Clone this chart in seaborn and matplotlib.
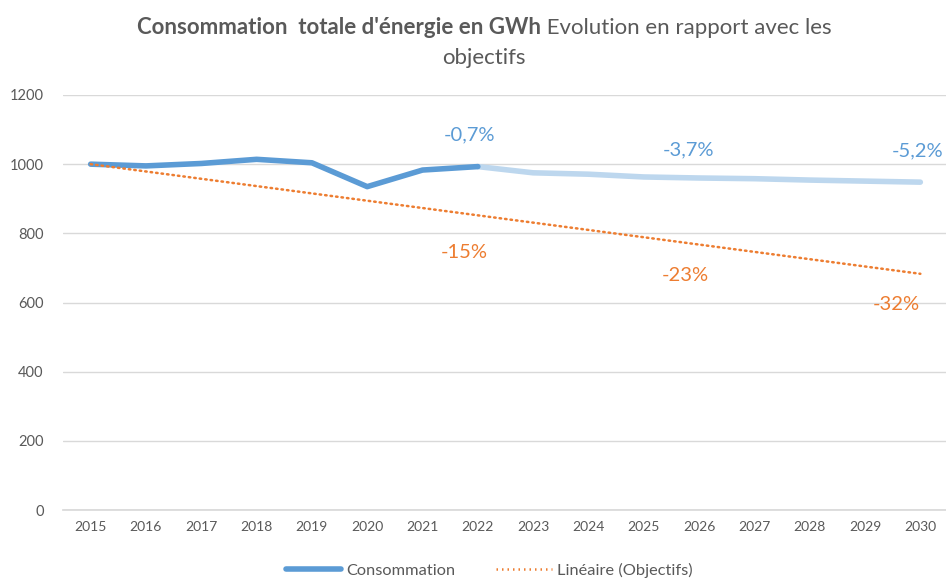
import matplotlib
matplotlib.use("Agg")
import matplotlib.pyplot as plt
import seaborn as sns
import pandas as pd
from matplotlib.lines import Line2D

# ---- data ----
years_hist = [2015, 2016, 2017, 2018, 2019, 2020, 2021, 2022]
conso_hist = [1000, 995, 1002, 1014, 1004, 935, 983, 993]
years_proj = [2022, 2023, 2024, 2025, 2026, 2027, 2028, 2029, 2030]
conso_proj = [993, 975, 971, 963, 960, 958, 954, 951, 948]
obj_years = [2015, 2030]
obj_values = [1000, 683]
blue_labels = ["-0,7%", "-3,7%", "-5,2%"]
blue_label_x = [2021.85, 2025.8, 2029.95]
blue_label_y = [1084, 1041, 1038]
orange_labels = ["-15%", "-23%", "-32%"]
orange_label_x = [2021.75, 2025.75, 2029.57]
orange_label_y = [746, 677, 593]
all_years = list(range(2015, 2031))

sns.set_theme(style="white")
plt.rcParams['font.family'] = ['Lato', 'DejaVu Sans']

GRAY = "#595959"
BLUE = "#5B9BD5"
LBLUE = "#BDD7EE"
ORANGE = "#ED7D31"

fig = plt.figure(figsize=(9.46, 5.79), dpi=100)
ax = fig.add_axes([63/946, 1-510/579, (948-63)/946, (510-95)/579])

df_hist = pd.DataFrame({"year": years_hist, "val": conso_hist})
df_proj = pd.DataFrame({"year": years_proj, "val": conso_proj})
df_obj = pd.DataFrame({"year": obj_years, "val": obj_values})

sns.lineplot(data=df_proj, x="year", y="val", ax=ax, color=LBLUE, linewidth=4, zorder=3, solid_capstyle="round")
sns.lineplot(data=df_hist, x="year", y="val", ax=ax, color=BLUE, linewidth=4, zorder=4, solid_capstyle="round")
sns.lineplot(data=df_obj, x="year", y="val", ax=ax, color=ORANGE, linewidth=1.8, zorder=5,
             linestyle=(0, (0.6, 1.6)), dash_capstyle="round")

for t, x, y in zip(blue_labels, blue_label_x, blue_label_y):
    ax.text(x, y, t, color=BLUE, fontsize=14.5, ha="center", va="center")
for t, x, y in zip(orange_labels, orange_label_x, orange_label_y):
    ax.text(x, y, t, color=ORANGE, fontsize=14.5, ha="center", va="center")

ax.set_xlim(2014.5, 2030.5)
ax.set_ylim(0, 1200)
ax.set_xticks(all_years)
ax.set_xticklabels([str(y) for y in all_years])
ax.set_yticks(range(0, 1201, 200))
ax.yaxis.grid(True, color="#D9D9D9", linewidth=1)
ax.xaxis.grid(False)
ax.set_axisbelow(True)
for s in ["top", "right", "left"]:
    ax.spines[s].set_visible(False)
ax.spines["bottom"].set_color("#D9D9D9")
ax.tick_params(axis="x", colors=GRAY, labelsize=10, length=0, pad=8)
ax.tick_params(axis="y", colors=GRAY, labelsize=10.5, length=0, pad=14)
ax.set_xlabel("")
ax.set_ylabel("")

# title with mixed weights
renderer = fig.canvas.get_renderer()
t1 = fig.text(0, 0, "Consommation  totale d'énergie en GWh", fontsize=16, fontweight="bold", color=GRAY)
t2 = fig.text(0, 0, " Evolution en rapport avec les", fontsize=16, color=GRAY)
w1 = t1.get_window_extent(renderer).width
w2 = t2.get_window_extent(renderer).width
total = w1 + w2
x0 = 484 - total / 2
ybase = 1 - 34/579
t1.set_position((x0/946, ybase))
t2.set_position(((x0 + w1)/946, ybase))
fig.text(484/946, 1 - 64/579, "objectifs", fontsize=16, color=GRAY, ha="center")

handles = [Line2D([0], [0], color=BLUE, linewidth=4),
           Line2D([0], [0], color=ORANGE, linewidth=1.8, linestyle=(0, (0.6, 1.6)))]
fig.legend(handles, ["Consommation", "Linéaire (Objectifs)"], loc="center", bbox_to_anchor=(489/946, 1-570/579),
           ncol=2, frameon=False, fontsize=11.8, labelcolor=GRAY, handlelength=3.4, columnspacing=2.5, handletextpad=0.3)

fig.savefig("out.png", dpi=100)
